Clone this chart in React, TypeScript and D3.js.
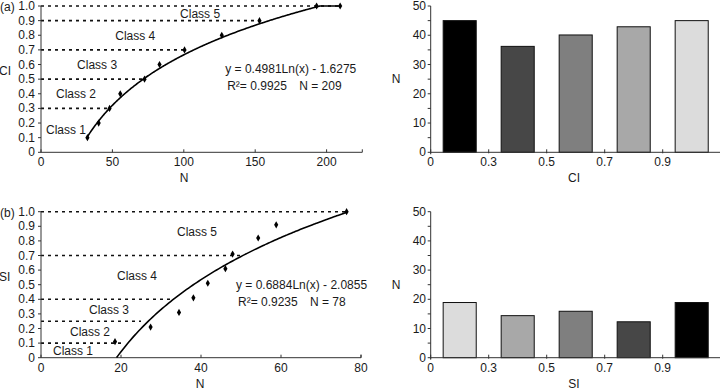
import React from 'react';
import * as d3 from 'd3';

// (a) CI vs N
const ciN = [32.5, 40.4, 48, 55.5, 72.5, 83, 100.5, 126.6, 153, 193, 209.5];
const ciVal = [0.1, 0.2, 0.3, 0.4, 0.5, 0.6, 0.7, 0.8, 0.9, 1.0, 1.0];
const ciLimits = [0.3, 0.5, 0.7, 0.9, 1.0];
const ciLimitEnds = [47, 71, 100, 153, 209.5];
const ciTrend = { a: 0.4981, b: -1.6275, from: 32.5, to: 209.5 };

// (b) SI vs N
const siN = [18.5, 27.4, 34.5, 38.1, 41.7, 46.1, 47.9, 54.3, 58.8, 76.4];
const siVal = [0.11, 0.21, 0.31, 0.41, 0.51, 0.61, 0.71, 0.82, 0.91, 1.0];
const siLimits = [0.1, 0.25, 0.4, 0.7, 1.0];
const siLimitEnds = [20, 25, 33, 50, 76.4];
const siTrend = { a: 0.712, b: -2.092, from: 18.9, to: 76.4 }; // curve as drawn

const classNames = ['Class 1', 'Class 2', 'Class 3', 'Class 4', 'Class 5'];
const ciClassAt = [[17.5, 0.15], [24.5, 0.4], [39.3, 0.6], [66, 0.795], [111.4, 0.945]];
const siClassAt = [[8, 0.048], [12.25, 0.178], [17, 0.325], [24, 0.56], [39, 0.862]];

// histograms
const bins = ['c1', 'c2', 'c3', 'c4', 'c5'];
const binLabels = ['0', '0.3', '0.5', '0.7', '0.9'];
const ciCounts = [45, 36.2, 40.1, 42.9, 45];
const siCounts = [18.9, 14.4, 15.9, 12.3, 18.9];
const ciColors = ['#000000', '#474747', '#7f7f7f', '#a8a8a8', '#dcdcdc'];
const siColors = ['#dcdcdc', '#a8a8a8', '#7f7f7f', '#474747', '#000000'];

const font = "'Liberation Sans', Arial, sans-serif";
const ink = '#1a1a1a';

type ScatterProps = {
  top: number; bottom: number; xMax: number; xRight: number; xTicks: number[];
  ns: number[]; vals: number[]; limits: number[]; limitEnds: number[];
  trend: { a: number; b: number; from: number; to: number };
  classAt: number[][]; eq: string; r2: string; nText: string; eqAt: number[];
  yLabel: string; tag: string; nLabelX: number;
};

const Scatter: React.FC<ScatterProps> = (p) => {
  const x = d3.scaleLinear().domain([0, p.xMax]).range([41, p.xRight]);
  const y = d3.scaleLinear().domain([0, 1]).range([p.bottom, p.top]);
  const f = (n: number) => Math.min(1, p.trend.a * Math.log(n) + p.trend.b);
  const curvePts = d3.range(p.trend.from, p.trend.to, 0.5).concat([p.trend.to]);
  const line = d3.line<number>().x(n => x(n)).y(n => y(f(n))).curve(d3.curveMonotoneX);
  const diamond = d3.symbol().type(d3.symbolDiamond).size(15)();
  const yTicks = d3.range(0, 11).map(i => i / 10);
  return (
    <g fontFamily={font} fontSize={12} fill={ink}>
      {p.limits.map((v, i) => (
        <line key={'l' + i} x1={x(0)} x2={x(p.limitEnds[i])} y1={y(v)} y2={y(v)}
          stroke="#111" strokeWidth={1.6} strokeDasharray="3,4" />
      ))}
      <line x1={x(0)} x2={x(0)} y1={y(0)} y2={y(1)} stroke="#333" strokeWidth={1} />
      <line x1={x(0)} x2={x(p.xMax)} y1={y(0)} y2={y(0)} stroke="#333" strokeWidth={1} />
      {yTicks.map(t => (
        <g key={'y' + t}>
          <line x1={x(0) - 3} x2={x(0)} y1={y(t)} y2={y(t)} stroke="#333" />
          <text x={x(0) - 6} y={y(t)} textAnchor="end" dominantBaseline="central">
            {t === 0 ? '0' : d3.format('.1f')(t)}
          </text>
        </g>
      ))}
      {p.xTicks.map(t => (
        <g key={'x' + t}>
          <line x1={x(t)} x2={x(t)} y1={y(0) - 3} y2={y(0)} stroke="#333" />
          <text x={x(t)} y={y(0) + 14} textAnchor="middle">{t}</text>
        </g>
      ))}
      <line x1={x(p.xMax)} x2={x(p.xMax)} y1={y(0) - 3} y2={y(0)} stroke="#333" />
      <text x={p.nLabelX} y={y(0) + 30} textAnchor="middle">N</text>
      <text x={-1} y={(y(0) + y(1)) / 2 - 8} dominantBaseline="central">{p.yLabel}</text>
      <text x={0} y={y(1) + 1} dominantBaseline="central">{p.tag}</text>
      <path d={line(curvePts) || ''} fill="none" stroke="#000" strokeWidth={1.6} />
      {p.ns.map((n, i) => (
        <path key={'p' + i} d={diamond || ''} transform={`translate(${x(n)},${y(p.vals[i])})`} fill="#000" />
      ))}
      {classNames.map((c, i) => (
        <text key={c} x={x(p.classAt[i][0])} y={y(p.classAt[i][1])} textAnchor="middle"
          dominantBaseline="central">{c}</text>
      ))}
      <text x={x(p.eqAt[0])} y={y(p.eqAt[1])} dominantBaseline="central">{p.eq}</text>
      <text x={x(p.eqAt[0]) + 2} y={y(p.eqAt[1]) + 17} dominantBaseline="central">{p.r2}</text>
      <text x={x(p.eqAt[0]) + 74} y={y(p.eqAt[1]) + 17} dominantBaseline="central">{p.nText}</text>
    </g>
  );
};

type BarsProps = { top: number; bottom: number; counts: number[]; colors: string[]; xLabel: string };

const Bars: React.FC<BarsProps> = ({ top, bottom, counts, colors, xLabel }) => {
  const x = d3.scaleBand<string>().domain(bins).range([430.7, 720.7]).paddingInner(0.43).paddingOuter(0.215);
  const y = d3.scaleLinear().domain([0, 50]).range([bottom, top]);
  const gap = (x.step() - x.bandwidth()) / 2;
  const minor = d3.range(0, 51, 5);
  return (
    <g fontFamily={font} fontSize={12} fill={ink}>
      {bins.map((b, i) => (
        <rect key={b} x={x(b)} y={y(counts[i])} width={x.bandwidth()} height={y(0) - y(counts[i])}
          fill={colors[i]} stroke="#111" strokeWidth={1} />
      ))}
      <line x1={430.7} x2={430.7} y1={y(0) + 2} y2={y(50)} stroke="#333" />
      <line x1={430.7} x2={720} y1={y(0)} y2={y(0)} stroke="#333" />
      {minor.map(t => (
        <line key={'m' + t} x1={427.7} x2={430.7} y1={y(t)} y2={y(t)} stroke="#333" />
      ))}
      {d3.range(0, 51, 10).map(t => (
        <text key={'t' + t} x={426} y={y(t)} textAnchor="end" dominantBaseline="central">{t}</text>
      ))}
      {bins.map((b, i) => (
        <g key={'x' + b}>
          <line x1={(x(b) || 0) - gap} x2={(x(b) || 0) - gap} y1={y(0) - 3} y2={y(0) + 1} stroke="#333" />
          <text x={(x(b) || 0) - gap} y={y(0) + 14} textAnchor="middle">{binLabels[i]}</text>
        </g>
      ))}
      <text x={396} y={(y(0) + y(50)) / 2} textAnchor="middle" dominantBaseline="central">N</text>
      <text x={574} y={y(0) + 30} textAnchor="middle">{xLabel}</text>
    </g>
  );
};

export default function App() {
  return (
    <svg width={720} height={390} style={{ position: 'absolute', left: 0, top: 0, background: '#fff' }}>
      <Scatter top={6} bottom={152.3} xMax={225} xRight={362.3} xTicks={[0, 50, 100, 150, 200]}
        ns={ciN} vals={ciVal} limits={ciLimits} limitEnds={ciLimitEnds} trend={ciTrend}
        classAt={ciClassAt} eq="y = 0.4981Ln(x) - 1.6275" r2="R²= 0.9925" nText="N = 209"
        eqAt={[129, 0.57]} yLabel="CI" tag="(a)" nLabelX={184} />
      <Scatter top={211.7} bottom={357.7} xMax={80} xRight={361} xTicks={[0, 20, 40, 60, 80]}
        ns={siN} vals={siVal} limits={siLimits} limitEnds={siLimitEnds} trend={siTrend}
        classAt={siClassAt} eq="y = 0.6884Ln(x) - 2.0855" r2="R²= 0.9235" nText="N = 78"
        eqAt={[48.75, 0.498]} yLabel="SI" tag="(b)" nLabelX={200} />
      <Bars top={6} bottom={152.3} counts={ciCounts} colors={ciColors} xLabel="CI" />
      <Bars top={211.7} bottom={357.7} counts={siCounts} colors={siColors} xLabel="SI" />
    </svg>
  );
}
